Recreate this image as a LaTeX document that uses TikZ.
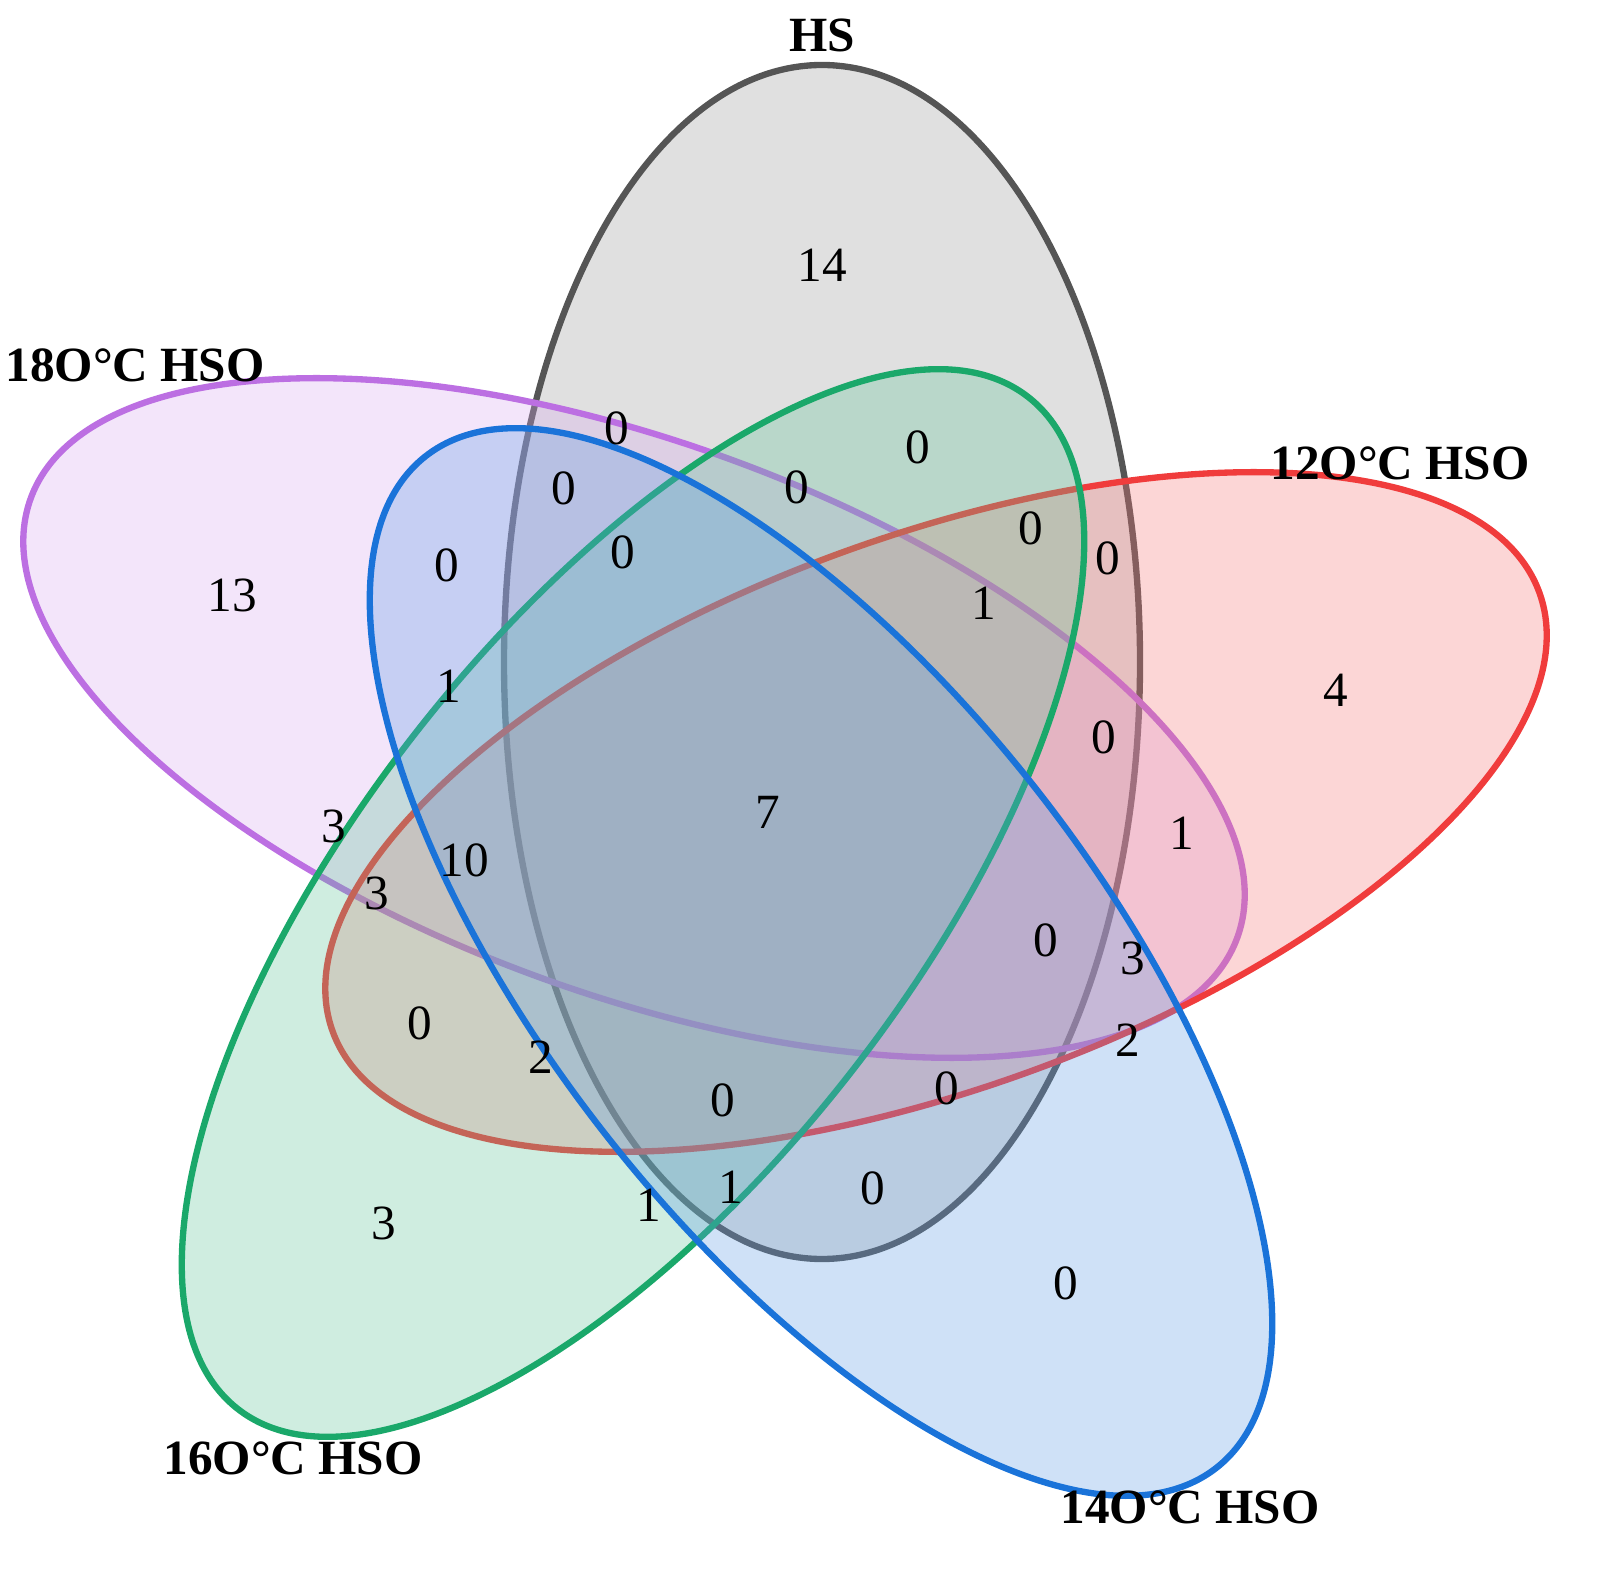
\documentclass[tikz,border=0pt]{standalone}
\usepackage{fontspec}
\setmainfont{Liberation Serif}
\begin{document}
\begin{tikzpicture}[x=0.01cm,y=-0.01cm,
 set/.style={line width=1.8pt,fill opacity=0.3},
 num/.style={font=\fontsize{14}{16}\selectfont},
 ttl/.style={font=\fontsize{14}{17}\selectfont\bfseries}]
\useasboundingbox (0,0) rectangle (1598,1577);
\definecolor{cgray}{HTML}{555555}
\definecolor{cpur}{HTML}{BC6FE2}
\definecolor{cred}{HTML}{F03C3C}
\definecolor{cgrn}{HTML}{1AA86A}
\definecolor{cblu}{HTML}{1A73D9}
\draw[set,draw=cgray,fill=gray!80] (822,662) ellipse [x radius=318, y radius=597];
\draw[set,draw=cpur,fill=cpur!60] (634,718) ellipse [x radius=642, y radius=276, rotate=-20];
\draw[set,draw=cred,fill=cred!70] (936,812) ellipse [x radius=642, y radius=276, rotate=20];
\draw[set,draw=cgrn,fill=cgrn!70] (633,903) ellipse [x radius=642, y radius=276, rotate=52];
\draw[set,draw=cblu,fill=cblu!70] (821,962) ellipse [x radius=642, y radius=276, rotate=-52];
\foreach \x/\y/\t [count=\i] in {822/265/14,617/428/0,918/447/0,564/488/0,797/487/0,1031/528/0,1108/558/0,232/595/13,447/565/0,623/552/0,984/603/1,1336/690/4,449/686/1,1104/737/0,768/812/7,1182/833/1,334/826/3,464/860/10,377/893/3,1046/940/0,1133/958/3,420/1023/0,541/1057/2,1128/1040/2,723/1100/0,947/1088/0,731/1187/1,873/1188/0,649/1205/1,384/1223/3,1066/1283/0}
  \node[num] (n\i) at (\x,\y) {\t};
\node[ttl] (hs) at (822,35) {HS};
\node[ttl] (t18) at (135,365) {18O°C HSO};
\node[ttl] (t12) at (1400,463) {12O°C HSO};
\node[ttl] (t16) at (293,1458) {16O°C HSO};
\node[ttl] (t14) at (1190,1507) {14O°C HSO};
\end{tikzpicture}
\end{document}
